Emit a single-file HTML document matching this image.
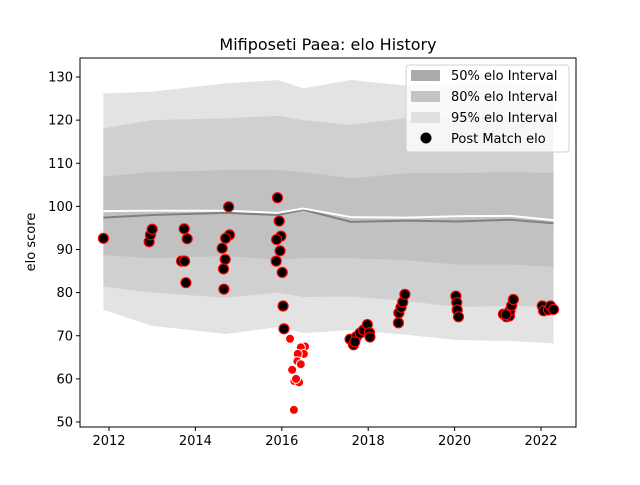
<!DOCTYPE html>
<html><head><meta charset="utf-8"><style>
body{margin:0;background:#fff}
svg text{font-family:"DejaVu Sans","Liberation Sans",sans-serif;fill:#000}
</style></head><body>
<svg id="c" width="640" height="480"></svg>
<script>
const nodeYears=[2011.87,2013.0,2014.7,2015.9,2016.5,2017.6,2018.9,2020.05,2021.3,2022.29];
const top95=[126.2,126.6,128.5,129.3,127.4,129.3,128,128.5,128.5,128.1];
const top80=[118.1,120,120.4,121,120,118.9,120.5,120.5,120.5,120];
const top50=[106.9,108,108.4,108.4,108,106.5,107.7,107.7,108,107.7];
const bot50=[88.7,88,88.5,87.6,88,88,87.5,86.5,86.5,86];
const bot80=[81.4,80,78.8,80,79,79.1,78,76.7,76.9,76.7];
const bot95=[76,72.3,70.4,72,70.6,71.3,70.2,69,68.8,68.2];
const expectedElo=[97.4,98,98.5,98,99.2,96.4,96.7,96.5,96.9,96.1];
const postMean=[98.9,99,99,98.5,99.5,97.5,97.4,97.7,97.8,96.8];
const matchYears=[2011.87,2012.93,2012.96,2013.0,2013.74,2013.81,2013.68,2013.75,2013.78,2014.77,2014.79,2014.70,2014.62,2014.69,2014.65,2014.66,2015.90,2015.94,2015.98,2015.88,2015.96,2015.87,2016.01,2016.03,2016.05,2017.58,2017.66,2017.73,2017.81,2017.89,2017.98,2018.03,2018.04,2017.69,2018.70,2018.71,2018.76,2018.80,2018.85,2020.03,2020.05,2020.06,2020.09,2021.13,2021.20,2021.27,2021.28,2021.32,2021.36,2021.19,2022.03,2022.06,2022.17,2022.22,2022.29];
const matchElo=[92.6,91.8,93.4,94.7,94.8,92.5,87.3,87.3,82.3,99.9,93.4,92.6,90.3,87.7,85.5,80.8,102.0,96.6,93.1,92.3,89.7,87.3,84.7,76.9,71.6,69.2,67.9,69.8,70.6,71.3,72.6,70.7,69.7,68.6,73.0,75.3,76.6,77.8,79.6,79.2,77.7,76.0,74.4,75.0,74.4,74.6,75.8,77.0,78.4,74.9,76.9,75.8,76.0,76.9,76.1];
const outYears=[2016.19,2016.54,2016.44,2016.51,2016.37,2016.36,2016.44,2016.24,2016.29,2016.40,2016.33,2016.28];
const outElo=[69.3,67.5,67.3,65.8,65.8,64.1,63.4,62.1,59.5,59.2,60.0,52.8];
const xTicks=[2012,2014,2016,2018,2020,2022];
const yTicks=[50,60,70,80,90,100,110,120,130];

const L=80,R=576,T=58,B=427;
const X=y=>109+(y-2012)*43.2;
const Y=v=>422-(v-50)*4.3125;
const svg=document.getElementById('c');
const NS='http://www.w3.org/2000/svg';
function mk(t,a,p){const e=document.createElementNS(NS,t);for(const k in a)e.setAttribute(k,a[k]);(p||svg).appendChild(e);return e;}
function band(tp,bt,fill,name){
  let d='M'+nodeYears.map((y,i)=>X(y)+','+Y(tp[i])).join('L');
  for(let i=nodeYears.length-1;i>=0;i--)d+='L'+X(nodeYears[i])+','+Y(bt[i]);
  const p=mk('path',{d:d+'Z',fill:fill});
  
  
}
band(top95,bot95,'#e3e3e3','band-95');
band(top80,bot80,'#d0d0d0','band-80');
band(top50,bot50,'#c1c1c1','band-50');
function line(arr,col,w,name){
  const p=mk('polyline',{points:nodeYears.map((y,i)=>X(y)+','+Y(arr[i])).join(' '),fill:'none',stroke:col,'stroke-width':w});
  
  
}
line(expectedElo,'#808080',2,'expected-elo-line');
line(postMean,'#ffffff',2,'mean-elo-line');
matchYears.forEach((y,i)=>{
  const c=mk('circle',{cx:X(y),cy:Y(matchElo[i]),r:5,fill:'#000',stroke:'#f00','stroke-width':1.2});
  
  
});
outYears.forEach((y,i)=>{
  const c=mk('circle',{cx:X(y),cy:Y(outElo[i]),r:4.5,fill:'#f00',stroke:'#fff','stroke-width':1});
  
  
});
const fr=mk('rect',{x:L,y:T,width:R-L,height:B-T,fill:'none',stroke:'#000','stroke-width':1});


xTicks.forEach(t=>{
  mk('line',{x1:X(t),x2:X(t),y1:B,y2:B+4,stroke:'#000'});
  const tx=mk('text',{x:X(t),y:B+18,'font-size':13,'text-anchor':'middle'});tx.textContent=t;
  
  
});
yTicks.forEach(t=>{
  mk('line',{x1:L-4,x2:L,y1:Y(t),y2:Y(t),stroke:'#000'});
  const tx=mk('text',{x:L-7,y:Y(t)+4.5,'font-size':13,'text-anchor':'end'});tx.textContent=t;
  
  
});
</script>
<svg width="640" height="480" style="position:absolute;left:0;top:0">
<text x="328" y="50" font-size="16" text-anchor="middle">Mifiposeti Paea: elo History</text>
<text transform="translate(35,242) rotate(-90)" font-size="13" text-anchor="middle">elo score</text>
<g>
<rect x="406" y="65" width="163" height="87" rx="3" fill="#fff" fill-opacity="0.8" stroke="#d0d0d0"/>
<rect x="411" y="70" width="29" height="11" fill="#aaaaaa"/>
<text x="451" y="80" font-size="13">50% elo Interval</text>
<rect x="411" y="91" width="29" height="11" fill="#c4c4c4"/>
<text x="451" y="101" font-size="13">80% elo Interval</text>
<rect x="411" y="112" width="29" height="11" fill="#e0e0e0"/>
<text x="451" y="122" font-size="13">95% elo Interval</text>
<circle cx="426" cy="138" r="5.5" fill="#000"/>
<text x="451" y="143" font-size="13">Post Match elo</text>
</g>
</svg>
</body></html>
